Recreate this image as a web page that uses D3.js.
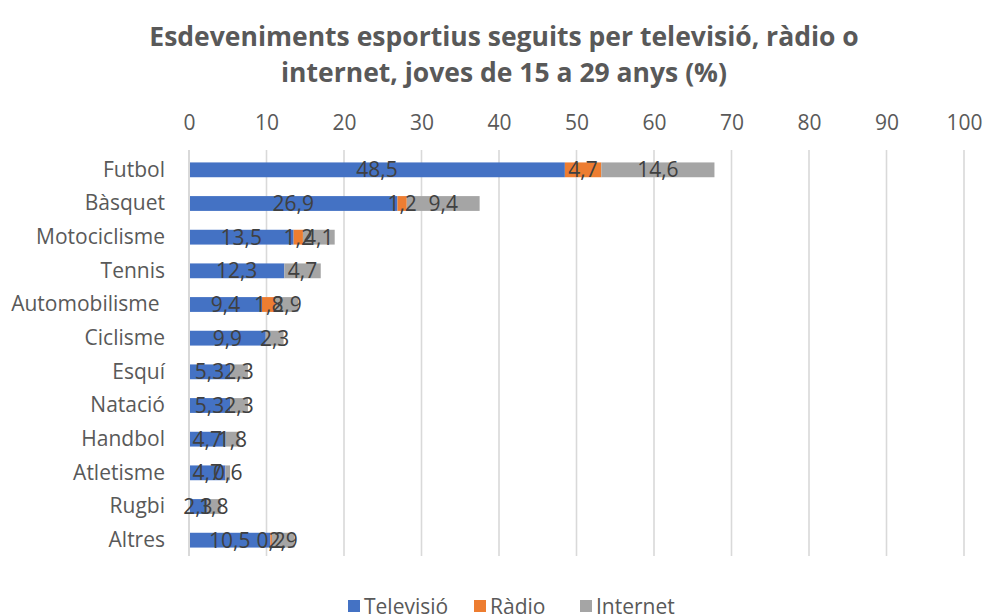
<!DOCTYPE html>
<html>
<head>
<meta charset="utf-8">
<script src="https://cdn.jsdelivr.net/npm/d3@7"></script>
<style>
  html, body { margin: 0; padding: 0; background: #fff; }
  svg { display: block; font-family: "Open Sans", "Noto Sans", sans-serif; }
</style>
</head>
<body>
<div id="chart"></div>
<script>
// Sports events followed on TV, radio or internet, ages 15-29 (%)
const categories = ["Futbol", "Bàsquet", "Motociclisme", "Tennis", "Automobilisme ", "Ciclisme",
  "Esquí", "Natació", "Handbol", "Atletisme", "Rugbi", "Altres"];
const televisio = [48.5, 26.9, 13.5, 12.3, 9.4, 9.9, 5.3, 5.3, 4.7, 4.7, 2.3, 10.5];
const radio     = [4.7, 1.2, 1.2, 0, 1.8, 0, 0, 0, 0, 0, 0, 0.2];
const internet  = [14.6, 9.4, 4.1, 4.7, 2.9, 2.3, 2.3, 2.3, 1.8, 0.6, 1.8, 2.9];
const seriesNames = ["Televisió", "Ràdio", "Internet"];
const seriesColors = ["#4472C4", "#ED7D31", "#A5A5A5"];
const xTicks = [0, 10, 20, 30, 40, 50, 60, 70, 80, 90, 100];
const titleLines = ["Esdeveniments esportius seguits per televisió, ràdio o",
  "internet, joves de 15 a 29 anys (%)"];

const W = 987, H = 616;
const FONT = "'Open Sans', sans-serif";
const svg = d3.select("#chart").append("svg").attr("width", W).attr("height", H);

const x = d3.scaleLinear().domain([0, 100]).range([189, 964]);
const y = d3.scaleBand().domain(categories).range([153, 557]).paddingInner(0.56).paddingOuter(0.28);

// Title
svg.append("g").selectAll("text").data(titleLines).join("text")
  .attr("x", 504).attr("y", (d, i) => 46 + i * 36)
  .attr("text-anchor", "middle")
  .attr("font-size", 26.5).attr("font-weight", "bold")
  .attr("fill", "#595959")
  .attr("font-family", FONT)
  .text(d => d);

// Vertical gridlines
svg.append("g").selectAll("line").data(xTicks).join("line")
  .attr("x1", d => x(d)).attr("x2", d => x(d))
  .attr("y1", 150).attr("y2", 556)
  .attr("stroke", "#D9D9D9").attr("stroke-width", 1.6);

// Top axis
const axis = d3.axisTop(x).tickValues(xTicks).tickSize(0).tickPadding(0);
const ax = svg.append("g").attr("transform", "translate(0,130)").call(axis);
ax.select(".domain").remove();
ax.selectAll("text").attr("font-size", 21).attr("fill", "#595959")
  .attr("font-family", FONT);

// Stacked data
const rows = categories.map((c, i) => ({ cat: c, Televisió: televisio[i], Ràdio: radio[i], Internet: internet[i] }));
const stack = d3.stack().keys(seriesNames)(rows);

const layers = svg.append("g").selectAll("g").data(stack).join("g")
  .attr("fill", (d, i) => seriesColors[i]);
layers.selectAll("rect").data(d => d).join("rect")
  .attr("x", d => x(d[0]))
  .attr("y", d => y(d.data.cat))
  .attr("width", d => x(d[1]) - x(d[0]))
  .attr("height", y.bandwidth());

// Category axis
const yAxis = d3.axisLeft(y).tickSize(0).tickPadding(24);
const yg = svg.append("g").attr("transform", "translate(189,0)").call(yAxis);
yg.select(".domain").remove();
yg.selectAll("text").attr("font-size", 21).attr("fill", "#595959")
  .attr("font-family", FONT)
  .style("white-space", "pre");
svg.append("line").attr("x1", x(0)).attr("x2", x(0)).attr("y1", 150).attr("y2", 556)
  .attr("stroke", "#D9D9D9").attr("stroke-width", 2);

// Data labels, centred in each segment
const labelG = svg.append("g");
stack.forEach(layer => {
  labelG.selectAll(null).data(layer.filter(d => d[1] - d[0] > 0)).join("text")
    .attr("x", d => x((d[0] + d[1]) / 2))
    .attr("y", d => y(d.data.cat) + y.bandwidth() / 2)
    .attr("dy", "0.36em")
    .attr("text-anchor", "middle")
    .attr("font-size", 21).attr("fill", "#404040")
    .attr("font-family", FONT)
    .text(d => d3.format(".1f")(d[1] - d[0]).replace(".", ","));
});

// Legend
const legendX = [348, 474, 580];
const lg = svg.append("g").selectAll("g").data(seriesNames).join("g")
  .attr("transform", (d, i) => `translate(${legendX[i]},606)`);
lg.append("rect").attr("x", 0).attr("y", -6).attr("width", 12).attr("height", 12)
  .attr("fill", (d, i) => seriesColors[i]);
lg.append("text").attr("x", 16).attr("y", 0).attr("dy", "0.36em")
  .attr("font-size", 21).attr("fill", "#595959")
  .attr("font-family", FONT)
  .text(d => d);
</script>
</body>
</html>
